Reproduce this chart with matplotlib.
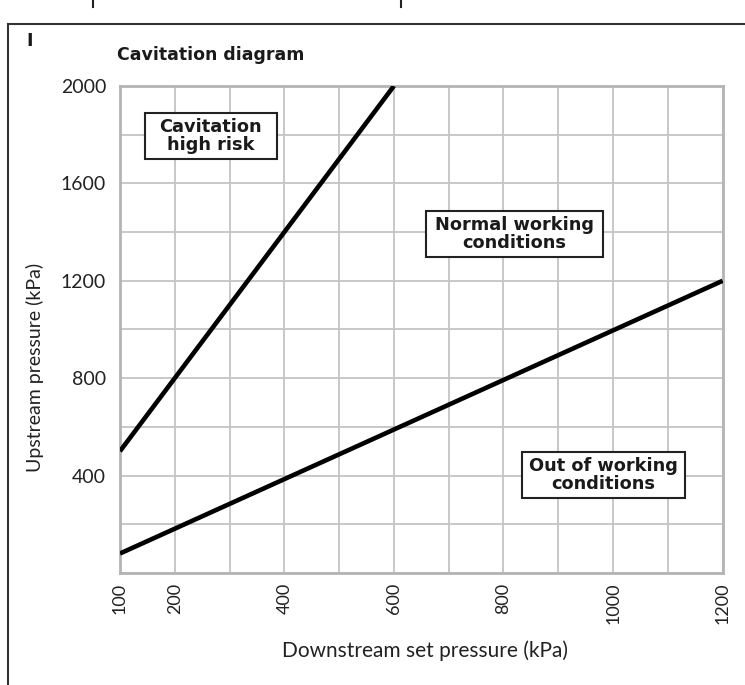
import matplotlib.pyplot as plt
from matplotlib.lines import Line2D
from matplotlib.patches import Rectangle

# 数据
downstream = [100, 600]          # 上方直线 (kPa)
upstream_high = [500, 2000]
downstream_low = [100, 1200]     # 下方直线
upstream_low = [80, 1200]

x_ticks = [100, 200, 400, 600, 800, 1000, 1200]
x_grid = list(range(100, 1201, 100))
y_ticks = [400, 800, 1200, 1600, 2000]
y_grid = list(range(0, 2001, 200))

zones = ['Cavitation\nhigh risk', 'Normal working\nconditions', 'Out of working\nconditions']
zone_x = [266, 820, 982]
zone_y = [1795, 1393, 402]
box_w = [241, 323, 297]   # 方框宽度 (kPa)
box_h = 189

plt.rcParams['font.family'] = ['Lato', 'DejaVu Sans']

fig = plt.figure(figsize=(7.45, 6.85), dpi=100)
ax = fig.add_axes([0.161, 0.1635, 0.809, 0.711])

ax.plot(downstream, upstream_high, color='black', lw=3.3, solid_capstyle='butt', zorder=3)
ax.plot(downstream_low, upstream_low, color='black', lw=3.3, solid_capstyle='butt', zorder=3)

ax.set_xlim(100, 1200)
ax.set_ylim(0, 2000)
ax.set_xticks(x_ticks)
ax.set_xticks(x_grid, minor=True)
ax.set_yticks(y_ticks)
ax.set_yticks(y_grid, minor=True)
ax.grid(which='both', color='#c4c4c4', lw=1.3)
ax.set_axisbelow(True)
ax.tick_params(which='both', length=0)
ax.tick_params(axis='x', labelrotation=90, pad=7, labelsize=13, colors='#222222')
ax.tick_params(axis='y', pad=10, labelsize=14, colors='#222222')
for s in ax.spines.values():
    s.set_color('#b4b4b4')
    s.set_linewidth(2)

ax.set_xlabel('Downstream set pressure (kPa)', fontsize=15, color='#222222', va='center')
ax.xaxis.set_label_coords(0.506, -0.16)
ax.set_ylabel('Upstream pressure (kPa)', fontsize=14, color='#222222', va='center')
ax.yaxis.set_label_coords(-0.141, 0.423)

for t, x, y, w in zip(zones, zone_x, zone_y, box_w):
    ax.add_patch(Rectangle((x - w / 2, y - box_h / 2), w, box_h, fc='white',
                           ec='#222222', lw=1.5, zorder=4))
    ax.text(x, y, t, ha='center', va='center', fontsize=12.8, fontweight='bold',
            family='DejaVu Sans', color='#1a1a1a', linespacing=1.0, zorder=5)

fig.text(117 / 745, 1 - 55 / 685, 'Cavitation diagram', fontsize=12.5, fontweight='bold',
         family='DejaVu Sans', color='#1a1a1a', va='center')
fig.text(26 / 745, 1 - 41.5 / 685, 'I', fontsize=12.5, fontweight='bold',
         family='DejaVu Sans', color='#1a1a1a', va='center')

# 外框
fig.add_artist(Line2D([8 / 745, 8 / 745], [0, 1 - 24 / 685], color='#333333', lw=1.5))
fig.add_artist(Line2D([8 / 745, 1], [1 - 24 / 685, 1 - 24 / 685], color='#333333', lw=1.5))
fig.add_artist(Line2D([93 / 745, 93 / 745], [1 - 7 / 685, 1], color='#222222', lw=1.5))
fig.add_artist(Line2D([401 / 745, 401 / 745], [1 - 7 / 685, 1], color='#222222', lw=1.5))

fig.savefig('out.png', dpi=100)
